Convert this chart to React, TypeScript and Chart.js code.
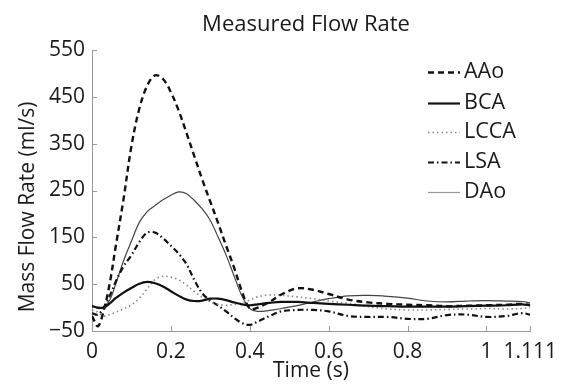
import React, { useEffect, useRef } from "react";
import { Chart, registerables } from "chart.js";

Chart.register(...registerables);

const TIME = [0, 0.015, 0.03, 0.045, 0.06, 0.08, 0.1, 0.12, 0.14, 0.16, 0.18, 0.2, 0.22, 0.24, 0.26, 0.28, 0.3, 0.32, 0.34, 0.36, 0.38, 0.4, 0.42, 0.45, 0.48, 0.52, 0.56, 0.6, 0.65, 0.7, 0.75, 0.8, 0.85, 0.9, 0.95, 1.0, 1.05, 1.09, 1.111];

const AAO = [-18, -40, -5, 52, 130, 232, 345, 425, 474, 496, 488, 460, 420, 372, 322, 272, 226, 180, 132, 86, 35, -2, 0, 12, 28, 41, 38, 29, 17, 11, 8, 6, 5, 3, 4, 5, 6, 8, 5];
const BCA = [3, 0, 0, 9, 20, 32, 42, 51, 55, 52, 45, 35, 25, 17, 14, 15, 19, 19, 16, 11, 7, 5, 7, 10, 12, 12, 10, 8, 6, 4, 3, 2, 2, 2, 3, 4, 5, 7, 5];
const LCCA = [-5, -10, -18, -15, -10, -3, 6, 20, 40, 60, 67, 65, 59, 48, 34, 22, 12, 7, 5, 7, 10, 16, 23, 27, 26, 23, 19, 14, 9, 2, -3, -5, -5, -4, -3, -2, -3, -2, 0];
const LSA = [-12, -15, 0, 25, 55, 88, 112, 140, 160, 160, 148, 132, 115, 92, 58, 30, 15, 4, -8, -22, -33, -37, -30, -18, -8, -5, -5, -8, -18, -20, -20, -24, -24, -16, -15, -20, -18, -12, -15];
const DAO = [5, -2, 2, 16, 50, 100, 142, 182, 205, 218, 230, 240, 247, 243, 228, 210, 186, 150, 112, 68, 25, -2, -8, -6, -2, 4, 12, 19, 25, 26, 24, 20, 14, 12, 14, 15, 14, 13, 10];

const SERIES_NAMES = ["AAo", "BCA", "LCCA", "LSA", "DAo"];
const X_TICKS = [0, 0.2, 0.4, 0.6, 0.8, 1, 1.111];
const Y_TICKS = [-50, 50, 150, 250, 350, 450, 550];

const TITLE = "Measured Flow Rate";
const X_TITLE = "Time (s)";
const Y_TITLE = "Mass Flow Rate (ml/s)";

const FONT = "'Open Sans', 'DejaVu Sans', sans-serif";

const overlay = {
  id: "overlay",
  afterDraw(chart: any) {
    const ctx = chart.ctx;
    const area = chart.chartArea;
    const xs = chart.scales.x;
    const ys = chart.scales.y;
    ctx.save();
    ctx.strokeStyle = "#999";
    ctx.lineWidth = 1;
    ctx.beginPath();
    X_TICKS.forEach((v) => {
      const px = Math.round(xs.getPixelForValue(v)) + 0.5;
      ctx.moveTo(px, area.bottom);
      ctx.lineTo(px, area.bottom - 5);
    });
    Y_TICKS.forEach((v) => {
      const py = Math.round(ys.getPixelForValue(v)) + 0.5;
      ctx.moveTo(area.left, py);
      ctx.lineTo(area.left + 5, py);
    });
    ctx.stroke();

    ctx.fillStyle = "#1a1a1a";
    ctx.textAlign = "center";
    ctx.textBaseline = "middle";
    ctx.font = `22px ${FONT}`;
    ctx.fillText(TITLE, 306, 25);
    ctx.font = `21px ${FONT}`;
    ctx.fillText(X_TITLE, 311, 371);
    ctx.save();
    ctx.translate(28, 207);
    ctx.rotate(-Math.PI / 2);
    ctx.font = `21px ${FONT}`;
    ctx.fillText(Y_TITLE, 0, 0);
    ctx.restore();

    const ys0 = [72, 103, 132, 162, 192];
    chart.data.datasets.forEach((ds: any, i: number) => {
      const y = ys0[i];
      ctx.save();
      ctx.strokeStyle = ds.legendColor || ds.borderColor;
      ctx.lineWidth = ds.borderWidth;
      ctx.setLineDash(ds.borderDash || []);
      ctx.beginPath();
      ctx.moveTo(428, y + 0.5);
      ctx.lineTo(460, y + 0.5);
      ctx.stroke();
      ctx.restore();
      ctx.fillStyle = "#1a1a1a";
      ctx.textAlign = "left";
      ctx.textBaseline = "middle";
      ctx.font = `21.5px ${FONT}`;
      ctx.fillText(ds.label, 464, y);
    });
    ctx.restore();
  },
};

export default function App() {
  const ref = useRef<HTMLCanvasElement | null>(null);
  useEffect(() => {
    if (!ref.current) return;
    const mk = (vals: number[]) => TIME.map((t, i) => ({ x: t, y: vals[i] }));
    const chart = new Chart(ref.current, {
      type: "line",
      data: {
        datasets: [
          { label: SERIES_NAMES[0], data: mk(AAO), borderColor: "#111", borderWidth: 2.4, borderDash: [6, 4] },
          { label: SERIES_NAMES[1], data: mk(BCA), borderColor: "#111", borderWidth: 2.2 },
          { label: SERIES_NAMES[2], data: mk(LCCA), borderColor: "#8a8a8a", borderWidth: 1.6, borderDash: [1.5, 3] },
          { label: SERIES_NAMES[3], data: mk(LSA), borderColor: "#111", borderWidth: 2.2, borderDash: [6, 3, 1.5, 3] },
          { label: SERIES_NAMES[4], data: mk(DAO), borderColor: "#444", borderWidth: 1.2, legendColor: "#999" } as any,
        ].map((d: any) => ({ ...d, pointRadius: 0, fill: false, tension: 0.35 })),
      },
      options: {
        animation: false,
        responsive: false,
        events: [],
        layout: { padding: { left: 0, right: 25, top: 50, bottom: 0 } },
        plugins: { legend: { display: false }, title: { display: false }, tooltip: { enabled: false } },
        scales: {
          x: {
            type: "linear",
            min: 0,
            max: 1.111,
            afterBuildTicks: (s: any) => { s.ticks = X_TICKS.map((v) => ({ value: v })); },
            afterFit: (s: any) => { s.height = 54; },
            grid: { display: true, drawOnChartArea: false, drawTicks: false },
            border: { display: true, color: "#999", width: 1 },
            ticks: {
              autoSkip: false,
              maxRotation: 0,
              padding: 8,
              color: "#1a1a1a",
              font: { family: FONT, size: 21 },
              callback: (v: any) => String(Number(v)),
            },
          },
          y: {
            type: "linear",
            min: -50,
            max: 550,
            afterBuildTicks: (s: any) => { s.ticks = Y_TICKS.map((v) => ({ value: v })); },
            afterFit: (s: any) => { s.width = 92; },
            grid: { display: true, drawOnChartArea: false, drawTicks: false },
            border: { display: true, color: "#999", width: 1 },
            ticks: {
              autoSkip: false,
              padding: 7,
              color: "#1a1a1a",
              font: { family: FONT, size: 21 },
              callback: (v: any) => (Number(v) < 0 ? "\u2212" + Math.abs(Number(v)) : String(v)),
            },
          },
        },
      },
      plugins: [overlay],
    });
    return () => chart.destroy();
  }, []);
  return (
    <div style={{ position: "absolute", left: 0, top: 0, width: 565, height: 385, background: "#fff" }}>
      <canvas ref={ref} width={565} height={385} />
    </div>
  );
}
